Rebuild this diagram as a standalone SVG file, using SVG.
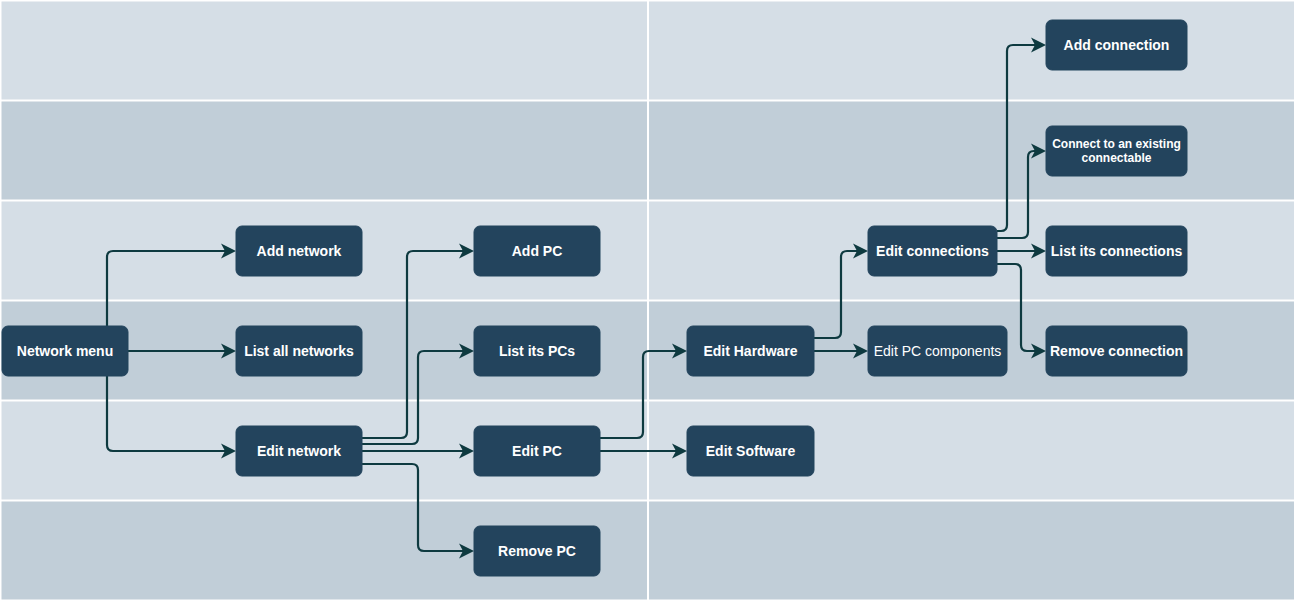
<svg xmlns="http://www.w3.org/2000/svg" width="1296" height="603" viewBox="0 0 1296 603">
<defs>
<style>
.lt{fill:#D5DEE6}
.dk{fill:#C1CED8}
.node rect{fill:#23445D;stroke:#23445D;stroke-width:1}
.node text{fill:#FFFFFF;font-family:"Liberation Sans",Arial,sans-serif;font-size:14px;font-weight:bold;text-anchor:middle}
.node text.reg{font-weight:normal}
.node text.sm{font-size:12px}
.conn path{fill:none;stroke:#0E3A40;stroke-width:2.2;marker-end:url(#arr)}
</style>
<marker id="arr" markerUnits="userSpaceOnUse" viewBox="0 -9 16 18" refX="4" refY="0" markerWidth="16" markerHeight="18" orient="auto">
<path d="M0,-7.5 L15,0 L0,7.5 L4,0 Z" fill="#0E3A40"/>
</marker>
</defs>
<rect x="0" y="0" width="1296" height="603" fill="#FFFFFF"/>
<g id="background">
<rect class="lt" x="1.5" y="1.5" width="645.5" height="98"/>
<rect class="dk" x="1.5" y="101.5" width="645.5" height="98"/>
<rect class="lt" x="1.5" y="201.5" width="645.5" height="98"/>
<rect class="dk" x="1.5" y="301.5" width="645.5" height="98"/>
<rect class="lt" x="1.5" y="401.5" width="645.5" height="98"/>
<rect class="dk" x="1.5" y="501.5" width="645.5" height="98"/>
<rect class="lt" x="649" y="1.5" width="645" height="98"/>
<rect class="dk" x="649" y="101.5" width="645" height="98"/>
<rect class="lt" x="649" y="201.5" width="645" height="98"/>
<rect class="dk" x="649" y="301.5" width="645" height="98"/>
<rect class="lt" x="649" y="401.5" width="645" height="98"/>
<rect class="dk" x="649" y="501.5" width="645" height="98"/>
</g>
<g id="connectors" class="conn">
<path d="M107,326 V257 Q107,251 113,251 H225"/>
<path d="M128,351 H225"/>
<path d="M107,376 V445 Q107,451 113,451 H225"/>
<path d="M362,438 H401 Q407,438 407,432 V257 Q407,251 413,251 H463"/>
<path d="M362,444 H412 Q418,444 418,438 V357 Q418,351 424,351 H463"/>
<path d="M362,451 H463"/>
<path d="M362,464 H412 Q418,464 418,470 V545 Q418,551 424,551 H463"/>
<path d="M600,438 H637 Q643,438 643,432 V357 Q643,351 649,351 H676"/>
<path d="M600,451 H676"/>
<path d="M814,338 H835 Q841,338 841,332 V257 Q841,251 847,251 H857"/>
<path d="M814,351 H857"/>
<path d="M997,231 H1001 Q1007,231 1007,225 V51 Q1007,45 1013,45 H1035"/>
<path d="M997,238 H1022 Q1028,238 1028,232 V157 Q1028,151 1034,151 H1035"/>
<path d="M997,251 H1035"/>
<path d="M997,264 H1015 Q1021,264 1021,270 V345 Q1021,351 1027,351 H1035"/>
</g>
<g id="network-menu" class="node"><rect x="2" y="326" width="126" height="50" rx="6"/><text x="65" y="356">Network menu</text></g>
<g id="add-network" class="node"><rect x="236" y="226" width="126" height="50" rx="6"/><text x="299" y="256">Add network</text></g>
<g id="list-all-networks" class="node"><rect x="236" y="326" width="126" height="50" rx="6"/><text x="299" y="356">List all networks</text></g>
<g id="edit-network" class="node"><rect x="236" y="426" width="126" height="50" rx="6"/><text x="299" y="456">Edit network</text></g>
<g id="add-pc" class="node"><rect x="474" y="226" width="126" height="50" rx="6"/><text x="537" y="256">Add PC</text></g>
<g id="list-its-pcs" class="node"><rect x="474" y="326" width="126" height="50" rx="6"/><text x="537" y="356">List its PCs</text></g>
<g id="edit-pc" class="node"><rect x="474" y="426" width="126" height="50" rx="6"/><text x="537" y="456">Edit PC</text></g>
<g id="remove-pc" class="node"><rect x="474" y="526" width="126" height="50" rx="6"/><text x="537" y="556">Remove PC</text></g>
<g id="edit-hardware" class="node"><rect x="687" y="326" width="127" height="50" rx="6"/><text x="750.5" y="356">Edit Hardware</text></g>
<g id="edit-software" class="node"><rect x="687" y="426" width="127" height="50" rx="6"/><text x="750.5" y="456">Edit Software</text></g>
<g id="edit-connections" class="node"><rect x="868" y="226" width="129" height="50" rx="6"/><text x="932.5" y="256">Edit connections</text></g>
<g id="edit-pc-components" class="node"><rect x="868" y="326" width="139" height="50" rx="6"/><text class="reg" x="937.5" y="356">Edit PC components</text></g>
<g id="add-connection" class="node"><rect x="1046" y="20" width="141" height="50" rx="6"/><text x="1116.5" y="50">Add connection</text></g>
<g id="connect-existing" class="node"><rect x="1046" y="126" width="141" height="50" rx="6"/><text class="sm" x="1116.5" y="148">Connect to an existing</text><text class="sm" x="1116.5" y="162.4">connectable</text></g>
<g id="list-its-connections" class="node"><rect x="1046" y="226" width="141" height="50" rx="6"/><text x="1116.5" y="256">List its connections</text></g>
<g id="remove-connection" class="node"><rect x="1046" y="326" width="141" height="50" rx="6"/><text x="1116.5" y="356">Remove connection</text></g>
</svg>
